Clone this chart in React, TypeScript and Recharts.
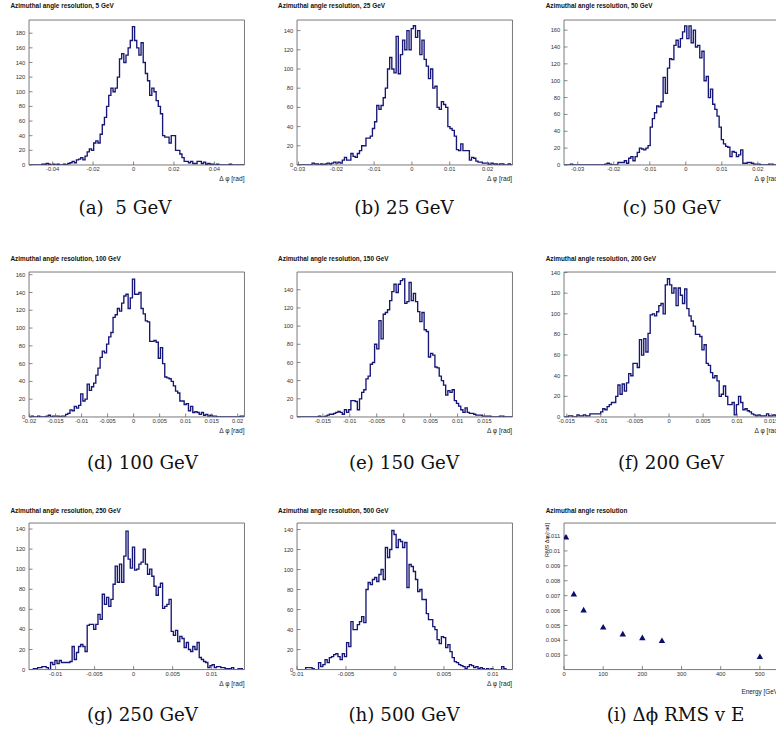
import React from 'react';
import { LineChart, Line, XAxis, YAxis, ScatterChart, Scatter, Symbols } from 'recharts';

// ---------------- DATA ----------------
const energyLabels = ['5 GeV', '25 GeV', '50 GeV', '100 GeV', '150 GeV', '200 GeV', '250 GeV', '500 GeV'];
const captionTexts = ['(a)  5 GeV', '(b) 25 GeV', '(c) 50 GeV', '(d) 100 GeV', '(e) 150 GeV', '(f) 200 GeV', '(g) 250 GeV', '(h) 500 GeV', '(i) Δϕ RMS v E'];

// histogram ranges (rad) and y-axis maxima
const histLow = [-0.0517, -0.0304, -0.0338, -0.0201, -0.0198, -0.0154, -0.0134, -0.0100];
const histHigh = [0.0549, 0.0266, 0.0260, 0.0213, 0.0202, 0.0162, 0.0142, 0.0120];
const histYMax = [198, 151, 172, 163, 159.5, 140.5, 146, 146.5];

const counts5GeV = [
  0, 0, 0, 0, 0, 0, 1, 1, 2, 1,
  0, 1, 0, 1, 0, 0, 1, 0, 2, 3,
  5, 3, 7, 8, 10, 7, 12, 18, 22, 20,
  30, 33, 30, 42, 55, 65, 80, 95, 105, 100,
  105, 120, 145, 152, 140, 150, 160, 170, 189, 170,
  160, 150, 167, 140, 125, 115, 95, 105, 100, 88,
  80, 70, 40, 38, 38, 30, 40, 40, 20, 20,
  15, 10, 5, 5, 3, 5, 2, 2, 5, 5,
  2, 4, 1, 2, 1, 1, 0, 1, 0, 0,
  0, 0, 0, 1, 0, 0, 0, 0, 0, 0,
];
const counts25GeV = [
  0, 0, 0, 0, 0, 0, 0, 2, 1, 1,
  0, 1, 0, 1, 2, 1, 2, 3, 2, 3,
  2, 5, 8, 5, 5, 12, 9, 8, 12, 15,
  20, 20, 28, 28, 30, 38, 45, 62, 58, 62,
  70, 80, 100, 112, 100, 96, 134, 95, 115, 130,
  120, 140, 120, 142, 145, 133, 140, 115, 130, 110,
  103, 90, 100, 80, 82, 60, 58, 66, 63, 60,
  40, 38, 36, 30, 16, 15, 22, 15, 15, 15,
  5, 8, 7, 4, 3, 3, 2, 2, 2, 0,
  2, 1, 1, 0, 1, 1, 0, 0, 1, 0,
];
const counts50GeV = [
  0, 0, 0, 1, 0, 0, 0, 0, 0, 0,
  0, 0, 0, 0, 0, 0, 0, 0, 0, 1,
  2, 1, 0, 0, 0, 3, 3, 3, 5, 2,
  8, 10, 5, 10, 15, 20, 19, 18, 20, 23,
  45, 55, 62, 70, 69, 75, 104, 85, 115, 126,
  125, 142, 148, 140, 150, 158, 165, 150, 165, 145,
  160, 140, 142, 127, 135, 100, 105, 80, 90, 72,
  66, 58, 45, 30, 25, 22, 21, 10, 16, 15,
  10, 12, 18, 2, 2, 3, 3, 2, 1, 1,
  1, 0, 0, 0, 0, 1, 1, 0, 0, 0,
];
const counts100GeV = [
  0, 1, 0, 0, 1, 0, 0, 0, 1, 2,
  0, 1, 1, 1, 0, 1, 1, 3, 4, 8,
  7, 12, 10, 13, 26, 18, 20, 37, 30, 34,
  38, 47, 55, 67, 74, 72, 82, 90, 95, 112,
  115, 122, 119, 128, 136, 138, 122, 134, 155, 138,
  138, 140, 122, 116, 108, 107, 85, 85, 86, 84,
  66, 78, 60, 45, 44, 43, 40, 35, 29, 27,
  18, 18, 14, 15, 7, 12, 5, 6, 5, 3,
  5, 2, 3, 1, 2, 1, 1, 0, 0, 0,
  0, 0, 0, 0, 0, 0, 0, 0, 1, 1,
];
const counts150GeV = [
  0, 0, 0, 0, 0, 0, 0, 0, 0, 0,
  1, 0, 0, 1, 2, 3, 3, 4, 5, 6,
  5, 3, 8, 5, 8, 18, 18, 17, 8, 20,
  27, 30, 42, 45, 58, 60, 80, 75, 106, 86,
  113, 115, 118, 128, 138, 146, 137, 146, 150, 152,
  125, 127, 148, 128, 136, 127, 116, 105, 115, 96,
  94, 66, 70, 68, 55, 54, 45, 40, 35, 24,
  29, 27, 30, 18, 15, 12, 8, 5, 10, 5,
  4, 4, 3, 2, 2, 2, 1, 1, 1, 1,
  0, 0, 0, 0, 1, 1, 0, 0, 0, 0,
];
const counts200GeV = [
  0, 0, 1, 1, 0, 0, 2, 1, 1, 2,
  1, 1, 3, 3, 3, 3, 3, 5, 8, 7,
  10, 12, 14, 14, 20, 31, 22, 32, 25, 33,
  42, 40, 52, 52, 48, 75, 60, 76, 63, 81,
  99, 100, 98, 102, 108, 110, 100, 128, 134, 128,
  120, 125, 108, 125, 118, 110, 124, 105, 98, 93,
  88, 80, 80, 78, 65, 70, 52, 50, 43, 38,
  40, 35, 20, 22, 30, 20, 12, 12, 14, 2,
  12, 20, 14, 7, 8, 6, 5, 3, 2, 1,
  2, 1, 1, 1, 3, 1, 1, 2, 1, 0,
];
const counts250GeV = [
  0, 0, 1, 1, 2, 2, 3, 3, 2, 0,
  7, 5, 9, 6, 9, 7, 7, 7, 7, 8,
  23, 10, 17, 23, 25, 23, 18, 44, 45, 45,
  40, 45, 55, 50, 75, 65, 72, 63, 70, 85,
  103, 87, 105, 87, 113, 138, 110, 101, 122, 99,
  100, 105, 107, 120, 105, 95, 100, 93, 83, 74,
  82, 86, 61, 63, 65, 70, 38, 34, 39, 28,
  33, 31, 22, 27, 20, 18, 23, 20, 27, 12,
  10, 8, 7, 2, 4, 5, 2, 3, 3, 2,
  2, 1, 1, 1, 2, 0, 0, 1, 1, 0,
];
const counts500GeV = [
  0, 0, 0, 0, 2, 2, 2, 1, 0, 0,
  7, 3, 5, 10, 7, 12, 13, 15, 16, 13,
  10, 16, 13, 27, 23, 48, 40, 40, 45, 48,
  53, 47, 80, 87, 85, 90, 92, 88, 95, 100,
  90, 122, 112, 120, 139, 135, 122, 130, 128, 122,
  127, 82, 105, 103, 98, 90, 78, 80, 70, 70,
  56, 50, 50, 43, 40, 30, 26, 33, 32, 22,
  25, 18, 12, 8, 7, 5, 4, 3, 1, 3,
  5, 4, 2, 3, 1, 2, 1, 0, 1, 0,
  1, 0, 0, 0, 0, 3, 1, 0, 0, 0,
];
const histCounts = [counts5GeV, counts25GeV, counts50GeV, counts100GeV, counts150GeV, counts200GeV, counts250GeV, counts500GeV];

const xMajorTicks = [
  [-0.04, -0.02, 0, 0.02, 0.04],
  [-0.03, -0.02, -0.01, 0, 0.01, 0.02],
  [-0.03, -0.02, -0.01, 0, 0.01, 0.02],
  [-0.02, -0.015, -0.01, -0.005, 0, 0.005, 0.01, 0.015, 0.02],
  [-0.015, -0.01, -0.005, 0, 0.005, 0.01, 0.015],
  [-0.015, -0.01, -0.005, 0, 0.005, 0.01, 0.015],
  [-0.01, -0.005, 0, 0.005, 0.01],
  [-0.01, -0.005, 0, 0.005, 0.01],
];
const xMinorStep = [0.004, 0.002, 0.002, 0.001, 0.001, 0.001, 0.001, 0.001];
const yMajorTicks = [
  [0, 20, 40, 60, 80, 100, 120, 140, 160, 180],
  [0, 20, 40, 60, 80, 100, 120, 140],
  [0, 20, 40, 60, 80, 100, 120, 140, 160],
  [0, 20, 40, 60, 80, 100, 120, 140, 160],
  [0, 20, 40, 60, 80, 100, 120, 140],
  [0, 20, 40, 60, 80, 100, 120, 140],
  [0, 20, 40, 60, 80, 100, 120, 140],
  [0, 20, 40, 60, 80, 100, 120, 140],
];
const yMinorStep = 4;

// RMS vs energy
const rmsEnergy = [5, 25, 50, 100, 150, 200, 250, 500];
const rmsValue = [0.01089, 0.00707, 0.0060, 0.00485, 0.00439, 0.00414, 0.00394, 0.00287];
const rmsXDomain = [0, 550];
const rmsYDomain = [0.00204, 0.01187];
const rmsXTicks = [0, 100, 200, 300, 400, 500];
const rmsYTicks = [0.003, 0.004, 0.005, 0.006, 0.007, 0.008, 0.009, 0.01, 0.011];
const rmsXMinorStep = 20;
const rmsYMinorStep = 0.0002;

// ---------------- LAYOUT ----------------
const PLOT_W = 215.5;
const COL_LEFT = [29, 296.7, 564.3];
const ROW_TOP = [20, 271.7, 522.7];
const ROW_H = [145, 145, 146.6];
const TITLE_Y = [6, 259, 510.7];
const CAPTION_Y = [208, 463, 715];
const CAPTION_CX = [125, 404, 671.5, 142.5, 404, 671, 142.5, 404, 675.5];
const ML = 30, MT = 20, MR = 16, MB = 28;
const AX = 0.01; // tiny axis thickness so stacked axes coincide with the frame

const NAVY = '#161676';
const FRAME = '#6a6a6a';
const SANS = '"Liberation Sans", Arial, Helvetica, sans-serif';
const tickFont = { fontSize: 5.8, fill: '#333', fontFamily: SANS };

function ticksBetween(lo: number, hi: number, step: number) {
  const out: number[] = [];
  const k0 = Math.ceil(lo / step - 1e-9);
  const k1 = Math.floor(hi / step + 1e-9);
  for (let k = k0; k <= k1; k++) out.push(+(k * step).toFixed(7));
  return out;
}

function frameAxes(xDomain: number[], yDomain: number[], xTicks: number[], xMinor: number[], yTicks: number[], yMinor: number[]) {
  const common = { type: 'number' as const, allowDataOverflow: true, interval: 0 as const };
  return [
    <XAxis key="xb" xAxisId="x" dataKey="x" {...common} domain={xDomain} ticks={xTicks} height={AX}
      tickSize={-3.5} tickMargin={5.8} tick={tickFont} axisLine={{ stroke: FRAME, strokeWidth: 0.9 }} tickLine={{ stroke: FRAME, strokeWidth: 0.8 }} />,
    <XAxis key="xbm" xAxisId="xbm" {...common} domain={xDomain} ticks={xMinor} height={AX}
      tickSize={-1.8} tick={false} axisLine={false} tickLine={{ stroke: FRAME, strokeWidth: 0.7 }} />,
    <XAxis key="xt" xAxisId="xt" orientation="top" {...common} domain={xDomain} ticks={xTicks} height={AX}
      tickSize={-3.5} tick={false} axisLine={{ stroke: FRAME, strokeWidth: 0.9 }} tickLine={{ stroke: FRAME, strokeWidth: 0.8 }} />,
    <XAxis key="xtm" xAxisId="xtm" orientation="top" {...common} domain={xDomain} ticks={xMinor} height={AX}
      tickSize={-1.8} tick={false} axisLine={false} tickLine={{ stroke: FRAME, strokeWidth: 0.7 }} />,
    <YAxis key="yl" yAxisId="y" dataKey="y" {...common} domain={yDomain} ticks={yTicks} width={AX}
      tickSize={-3.5} tickMargin={7.2} tick={tickFont} axisLine={{ stroke: FRAME, strokeWidth: 0.9 }} tickLine={{ stroke: FRAME, strokeWidth: 0.8 }} />,
    <YAxis key="ylm" yAxisId="ylm" {...common} domain={yDomain} ticks={yMinor} width={AX}
      tickSize={-1.8} tick={false} axisLine={false} tickLine={{ stroke: FRAME, strokeWidth: 0.7 }} />,
    <YAxis key="yr" yAxisId="yr" orientation="right" {...common} domain={yDomain} ticks={yTicks} width={AX}
      tickSize={-3.5} tick={false} axisLine={{ stroke: FRAME, strokeWidth: 0.9 }} tickLine={{ stroke: FRAME, strokeWidth: 0.8 }} />,
    <YAxis key="yrm" yAxisId="yrm" orientation="right" {...common} domain={yDomain} ticks={yMinor} width={AX}
      tickSize={-1.8} tick={false} axisLine={false} tickLine={{ stroke: FRAME, strokeWidth: 0.7 }} />,
  ];
}

function Title({ text, x, y }: { text: string; x: number; y: number }) {
  return (
    <div style={{ position: 'absolute', left: x, top: y - 4, lineHeight: '8px', fontFamily: SANS, fontWeight: 'bold', fontSize: 6.4, color: '#111', whiteSpace: 'nowrap' }}>
      {text}
    </div>
  );
}

function AxisTitleRight({ text, right, y, size }: { text: string; right: number; y: number; size: number }) {
  return (
    <div style={{ position: 'absolute', left: right - 120, width: 120, top: y - 4.5, lineHeight: '9px', textAlign: 'right', fontFamily: SANS, fontSize: size, color: '#222', whiteSpace: 'nowrap' }}>
      {text}
    </div>
  );
}

function Caption({ text, cx, cy }: { text: string; cx: number; cy: number }) {
  return (
    <div style={{ position: 'absolute', left: cx - 120, width: 240, top: cy - 12, lineHeight: '24px', textAlign: 'center', fontFamily: '"DejaVu Serif", "Liberation Serif", serif', fontSize: 18.3, color: '#111', whiteSpace: 'pre' }}>
      {text}
    </div>
  );
}

function TriangleMarker(props: any) {
  const { cx, cy } = props;
  if (cx == null || cy == null) return <g />;
  return <Symbols cx={cx} cy={cy} type="triangle" size={18} sizeType="area" fill="#0c0c6e" />;
}

function HistPanel({ idx }: { idx: number }) {
  const col = idx % 3;
  const row = Math.floor(idx / 3);
  const plotLeft = COL_LEFT[col];
  const plotTop = ROW_TOP[row];
  const plotH = ROW_H[row];
  const lo = histLow[idx];
  const hi = histHigh[idx];
  const counts = histCounts[idx];
  const n = counts.length;
  const data = [];
  for (let i = 0; i <= n; i++) {
    data.push({ x: lo + (i * (hi - lo)) / n, y: counts[Math.min(i, n - 1)] });
  }
  const xDomain = [lo, hi];
  const yDomain = [0, histYMax[idx]];
  const xMinor = ticksBetween(lo, hi, xMinorStep[idx]);
  const yMinor = ticksBetween(0, histYMax[idx], yMinorStep);
  return (
    <>
      <div style={{ position: 'absolute', left: plotLeft - ML, top: plotTop - MT }}>
        <LineChart width={ML + PLOT_W + MR} height={MT + plotH + MB} data={data} margin={{ top: MT, left: ML, right: MR, bottom: MB }}>
          {frameAxes(xDomain, yDomain, xMajorTicks[idx], xMinor, yMajorTicks[idx], yMinor)}
          <Line xAxisId="x" yAxisId="y" type="stepAfter" dataKey="y" stroke={NAVY} strokeWidth={1.35} dot={false} activeDot={false} isAnimationActive={false} />
        </LineChart>
      </div>
      <Title text={'Azimuthal angle resolution, ' + energyLabels[idx]} x={plotLeft - 18.6} y={TITLE_Y[row]} />
      <AxisTitleRight text="Δ φ [rad]" right={plotLeft + PLOT_W} y={plotTop + plotH + 13.8} size={6.6} />
      <Caption text={captionTexts[idx]} cx={CAPTION_CX[idx]} cy={CAPTION_Y[row]} />
    </>
  );
}

function RmsPanel() {
  const plotLeft = COL_LEFT[2];
  const plotTop = ROW_TOP[2];
  const plotH = ROW_H[2];
  const data = rmsEnergy.map((e, i) => ({ x: e, y: rmsValue[i] }));
  const xMinor = ticksBetween(rmsXDomain[0], rmsXDomain[1], rmsXMinorStep);
  const yMinor = ticksBetween(rmsYDomain[0], rmsYDomain[1], rmsYMinorStep);
  return (
    <>
      <div style={{ position: 'absolute', left: plotLeft - ML, top: plotTop - MT }}>
        <ScatterChart width={ML + PLOT_W + MR} height={MT + plotH + MB} margin={{ top: MT, left: ML, right: MR, bottom: MB }}>
          {frameAxes(rmsXDomain, rmsYDomain, rmsXTicks, xMinor, rmsYTicks, yMinor)}
          <Scatter xAxisId="x" yAxisId="y" data={data} shape={TriangleMarker} fill="#0c0c6e" isAnimationActive={false} />
        </ScatterChart>
      </div>
      <Title text="Azimuthal angle resolution" x={plotLeft - 18.6} y={TITLE_Y[2]} />
      <AxisTitleRight text="Energy [GeV]" right={plotLeft + PLOT_W} y={plotTop + plotH + 22.4} size={6.4} />
      <div style={{ position: 'absolute', left: plotLeft - 20.6 - 80, top: plotTop, width: 80, lineHeight: '7px', textAlign: 'right', transformOrigin: 'top right', transform: 'rotate(-90deg)', fontFamily: SANS, fontSize: 5.6, color: '#222', whiteSpace: 'nowrap' }}>
        RMS Δφ [rad]
      </div>
      <Caption text={captionTexts[8]} cx={CAPTION_CX[8]} cy={CAPTION_Y[2]} />
    </>
  );
}

export default function App() {
  return (
    <div style={{ position: 'absolute', left: 0, top: 0, width: 776, height: 731, overflow: 'hidden', background: '#fff' }}>
      {[0, 1, 2, 3, 4, 5, 6, 7].map((i) => (
        <HistPanel key={i} idx={i} />
      ))}
      <RmsPanel />
    </div>
  );
}
